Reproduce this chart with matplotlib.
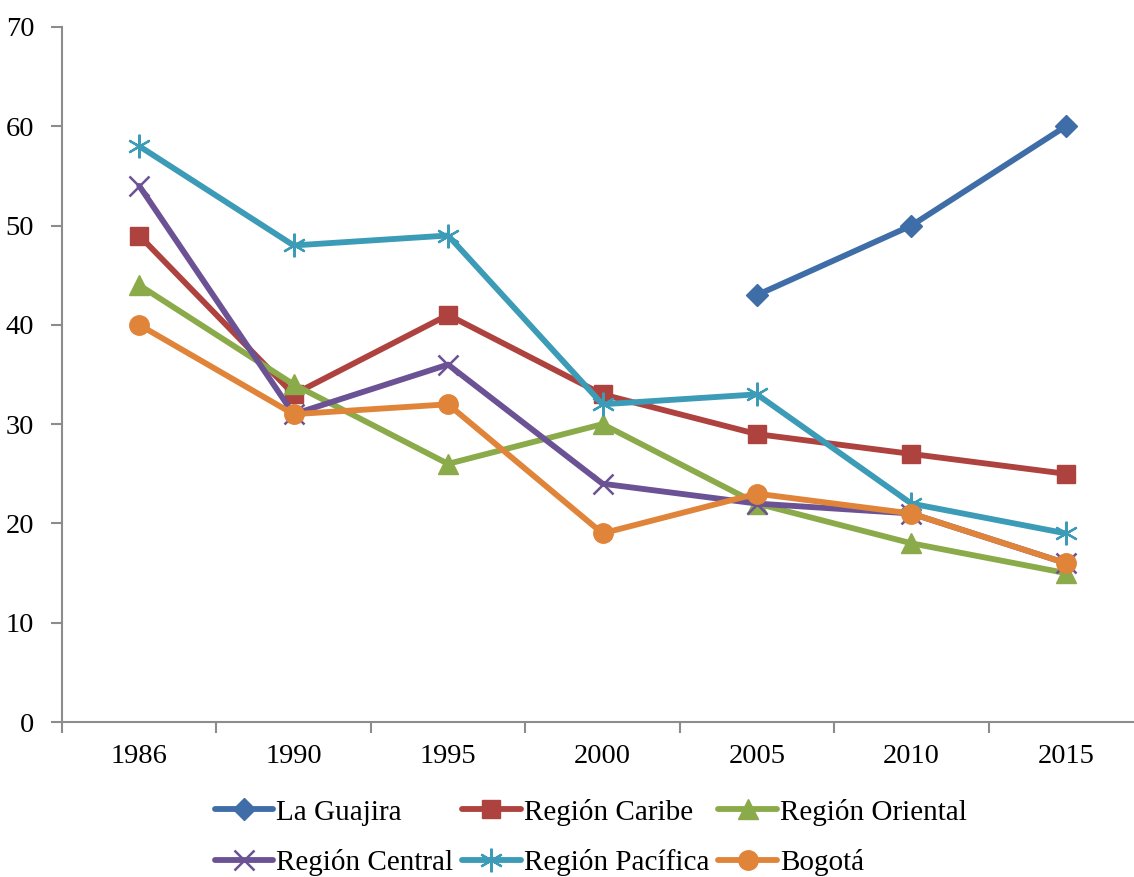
import numpy as np
import matplotlib.pyplot as plt

years = ['1986', '1990', '1995', '2000', '2005', '2010', '2015']
la_guajira = [np.nan, np.nan, np.nan, np.nan, 43, 50, 60]
region_caribe = [49, 33, 41, 33, 29, 27, 25]
region_oriental = [44, 34, 26, 30, 22, 18, 15]
region_central = [54, 31, 36, 24, 22, 21, 16]
region_pacifica = [58, 48, 49, 32, 33, 22, 19]
bogota = [40, 31, 32, 19, 23, 21, 16]

plt.rcParams['font.family'] = ['Liberation Serif', 'DejaVu Serif']

fig = plt.figure(figsize=(11.34, 8.77), dpi=100)
ax = fig.add_axes([62 / 1134, 155 / 877, 1081 / 1134, 695 / 877])

x = np.arange(len(years))
lw = 4.2
series = [
    ('La Guajira', la_guajira, '#3F6DA7', 'D', 11, {}),
    ('Región Caribe', region_caribe, '#AE423F', 's', 13, {}),
    ('Región Oriental', region_oriental, '#8BAA4A', '^', 14, {}),
    ('Región Central', region_central, '#6B5294', 'x', 14, {'markeredgewidth': 1.8}),
    ('Región Pacífica', region_pacifica, '#3C9BB6', (6, 2, 0), 17, {'markeredgewidth': 1.6}),
    ('Bogotá', bogota, '#E0843A', 'o', 14, {}),
]
handles = {}
for name, vals, col, mk, ms, extra in series:
    h, = ax.plot(x, vals, color=col, lw=lw, marker=mk, markersize=ms,
                 markerfacecolor=col, markeredgecolor=col, label=name,
                 solid_capstyle='round', **extra)
    handles[name] = h

ax.set_xlim(-0.5, len(years) - 0.5)
ax.set_ylim(0, 70)
ax.set_yticks(range(0, 71, 10))
ax.set_xticks(np.arange(-0.5, len(years), 1.0))
ax.set_xticklabels([])
ax.set_xticks(x, minor=True)
ax.set_xticklabels(years, minor=True)
ax.tick_params(axis='x', which='major', length=8, color='#8C8C8C', width=1.5)
ax.tick_params(axis='x', which='minor', length=0, pad=16, labelsize=20.5)
ax.tick_params(axis='y', length=8, color='#8C8C8C', width=1.5, pad=12, labelsize=20.5)
for s in ['top', 'right']:
    ax.spines[s].set_visible(False)
for s in ['left', 'bottom']:
    ax.spines[s].set_color('#8C8C8C')
    ax.spines[s].set_linewidth(1.5)

order = ['La Guajira', 'Región Central', 'Región Caribe', 'Región Pacífica',
         'Región Oriental', 'Bogotá']
fig.legend([handles[n] for n in order], order, ncol=3, loc='upper left',
           bbox_to_anchor=(200 / 1134, 1 - 784 / 877), frameon=False,
           fontsize=21, handlelength=2.0, handletextpad=0.12,
           columnspacing=0.3, labelspacing=0.8, borderpad=0)

fig.savefig('out.png', dpi=100)
